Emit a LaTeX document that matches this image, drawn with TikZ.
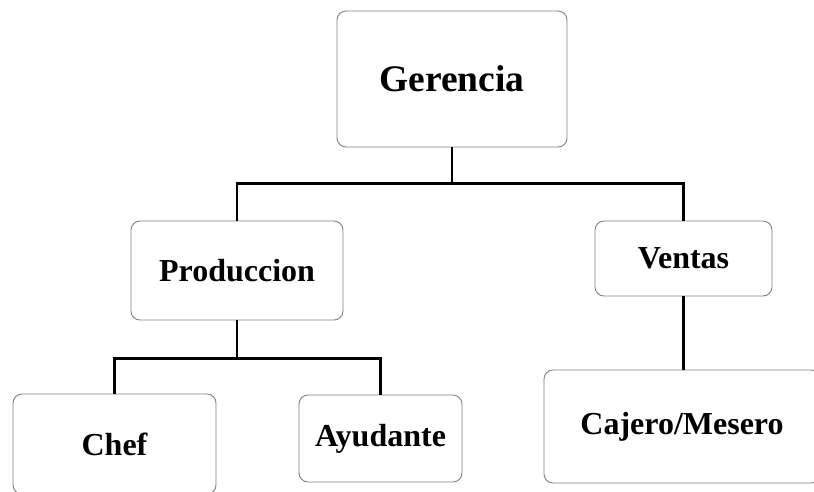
\documentclass[tikz,border=0pt]{standalone}
\usepackage{fontspec}
\setmainfont{Liberation Serif}
\begin{document}
\begin{tikzpicture}[x=1pt,y=-1pt,
  orgbox/.style={draw=black!50,line width=0.9pt,rounded corners=9pt,fill=white,
    inner sep=0pt,font=\bfseries\fontsize{32}{37}\selectfont},
  link/.style={draw=black,line width=2.5pt}]
  \useasboundingbox (0,0) rectangle (814,491);
  \clip (0,0) rectangle (814,491);
  % boxes
  \node[orgbox,minimum width=230pt,minimum height=136pt,
        font=\bfseries\fontsize{37.5}{42}\selectfont] (ger) at (452,79) {Gerencia};
  \node[orgbox,minimum width=212pt,minimum height=99pt]  (prod) at (237,270.5) {Produccion};
  \node[orgbox,minimum width=177pt,minimum height=75pt]  (ven)  at (683.5,258.5) {Ventas};
  \node[orgbox,minimum width=203pt,minimum height=100pt] (chef) at (114.5,444) {Chef};
  \node[orgbox,minimum width=163pt,minimum height=87pt]  (ayu)  at (380.5,438.5) {Ayudante};
  \node[orgbox,minimum width=276pt,minimum height=113pt] (caj)  at (682,426.5) {Cajero/Mesero};
  % connectors
  \draw[link] (ger.south) -- ++(0,36) coordinate (ga)
    (prod.north) |- (ga) -| (ven.north);
  \draw[link] (prod.south) -- ++(0,38) coordinate (pa)
    (chef.north) |- (pa) -| (ayu.north);
  \draw[link] (ven.south) -- (ven.south |- caj.north);
\end{tikzpicture}
\end{document}
